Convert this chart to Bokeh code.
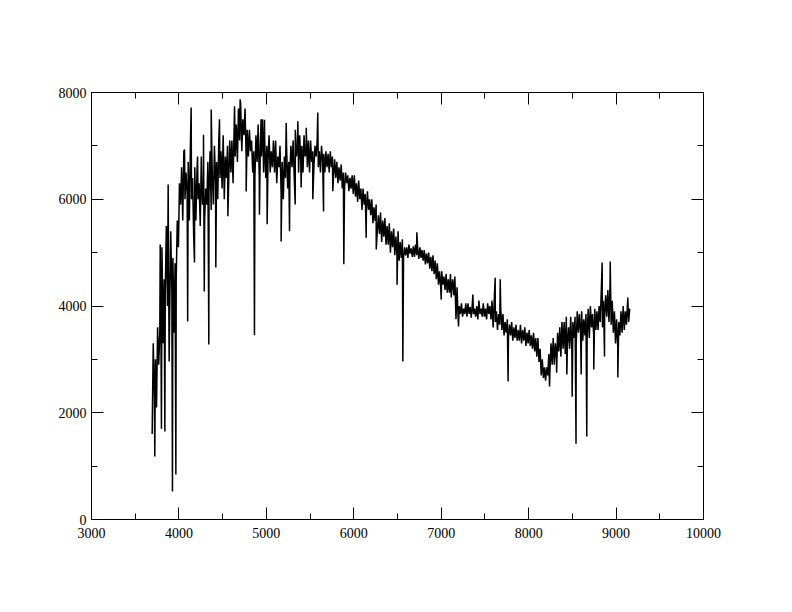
from bokeh.plotting import figure
from bokeh.models import SingleIntervalTicker, LinearAxis
from bokeh.embed import file_html
from bokeh.resources import INLINE

# Spectrum: 25 A bins starting at 3700 A, lower / upper swing per bin
bin_start = 3700
bin_width = 25
flux_lo = [
    1600, 2300, 2100, 2900,
    3600, 3300, 4300, 4000,
    3800, 4300, 3500, 4500,
    5100, 5900, 5600, 6000,
    6100, 5600, 6000, 5300,
    5600, 6000, 5500, 5900,
    5600, 5900, 6100, 5800,
    5900, 6300, 6000, 6400,
    6200, 6000, 6400, 6300,
    6500, 6300, 6800, 6700,
    7100, 6900, 7200, 6800,
    6800, 6900, 6500, 6400,
    6700, 6400, 6800, 6500,
    6400, 6700, 6500, 6600,
    6500, 6300, 6600, 6100,
    6000, 6400, 6200, 6500,
    6600, 6400, 6800, 6500,
    6700, 6500, 6800, 6600,
    6500, 6700, 6600, 6800,
    6600, 6500, 6700, 6500,
    6600, 6500, 6600, 6450,
    6400, 6300, 6350, 6200,
    6200, 6300, 6150, 6200,
    6100, 6050, 5950, 6000,
    5800, 5900, 5750, 5800,
    5700, 5550, 5600, 5400,
    5350, 5200, 5300, 5150,
    5150, 5000, 5100, 4950,
    4950, 4850, 4900, 4900,
    4950, 4900, 4980, 4920,
    4920, 4950, 4880, 4900,
    4850, 4780, 4800, 4700,
    4650, 4600, 4500, 4400,
    4350, 4400, 4300, 4250,
    4250, 4300, 4200, 3750,
    3750, 3850, 3800, 3850,
    3800, 3850, 3780, 3850,
    3800, 3750, 3850, 3800,
    3800, 3750, 3850, 3750,
    3600, 3700, 3550, 3650,
    3550, 3450, 3500, 3400,
    3450, 3350, 3400, 3350,
    3350, 3300, 3350, 3250,
    3300, 3250, 3200, 3150,
    3050, 2950, 2700, 2650,
    2600, 2700, 2800, 2900,
    2900, 3000, 3150, 3050,
    3200, 3100, 3300, 3200,
    3200, 3400, 3300, 3500,
    3500, 3350, 3450, 3400,
    3400, 3600, 3450, 3550,
    3550, 3700, 3600, 3800,
    3800, 3700, 3650, 3500,
    3300, 3250, 3450, 3500,
    3550, 3650, 3700,
]
flux_hi = [
    3300, 3000, 3600, 3500,
    5100, 4500, 5500, 4900,
    5400, 4900, 4800, 5600,
    6300, 6600, 6900, 6500,
    6700, 7000, 6400, 6600,
    6500, 6300, 6800, 6200,
    6200, 6700, 6900, 6500,
    7000, 6700, 7100, 6900,
    7200, 6800, 7000, 7100,
    7100, 7300, 7400, 7700,
    7800, 7500, 7700, 7300,
    7300, 7100, 6900, 7200,
    7400, 7000, 7500, 7100,
    7000, 7200, 6900, 7100,
    7100, 6800, 7000, 6700,
    6800, 7000, 6700, 7000,
    7100, 7300, 7000, 7200,
    7000, 7200, 6900, 7100,
    7100, 6900, 7000, 7100,
    6900, 7000, 6850, 6900,
    6850, 6900, 6800, 6750,
    6700, 6600, 6650, 6500,
    6500, 6450, 6400, 6450,
    6450, 6300, 6350, 6200,
    6200, 6100, 6150, 6000,
    6000, 5850, 5900, 5700,
    5750, 5600, 5650, 5500,
    5550, 5400, 5450, 5300,
    5400, 5200, 5250, 5100,
    5100, 5150, 5080, 5120,
    5150, 5080, 5100, 5050,
    5050, 4980, 5000, 4920,
    4950, 4850, 4800, 4650,
    4650, 4550, 4600, 4500,
    4600, 4500, 4550, 4350,
    4000, 4050, 3950, 4050,
    4050, 3980, 4050, 3950,
    4000, 4100, 3950, 4050,
    3950, 4050, 4000, 4100,
    4100, 3900, 3850, 3950,
    3850, 3700, 3750, 3650,
    3700, 3600, 3650, 3550,
    3650, 3550, 3600, 3500,
    3550, 3450, 3500, 3400,
    3400, 3200, 3000, 2850,
    2850, 3100, 3300, 3400,
    3300, 3500, 3600, 3700,
    3700, 3800, 3600, 3800,
    3700, 3800, 3900, 3850,
    3900, 3750, 3850, 3950,
    4000, 3850, 3950, 3900,
    4000, 4300, 4100, 4200,
    4300, 4400, 4100, 3900,
    3750, 3700, 3900, 4000,
    3900, 4050, 3950,
]

# Narrow lines and spikes (wavelength, flux)
spike_wave = [3724, 3786, 3800, 3839, 3877, 3888, 3926, 3965,
              4064, 4100, 4140, 4178, 4213, 4281, 4290, 4342, 4369, 4422,
              4464, 4560, 4636, 4700, 4769, 4864, 4921, 4940, 4979, 5009,
              5169, 5227, 5265, 5330, 5360, 5398, 5456, 5531, 5588, 5654,
              5760, 5886, 6142, 6257, 6495, 6561, 6721,
              7000, 7115, 7198, 7362, 7617, 7675, 7765, 8239, 8320, 8437,
              8498, 8542, 8601, 8665, 8745, 8841, 8868, 8933, 9020, 9134]
spike_flux = [1180, 5150, 1700, 1650, 6276, 2960, 525, 843,
              6930, 3710, 7720, 4815, 6800, 7210, 4270, 3280, 7680, 4720,
              7500, 5680, 7740, 7870, 6145, 3450, 5710, 7500, 7490, 5530,
              5210, 7430, 5400, 5900, 7460, 6220, 7340, 6000, 7625, 5770,
              6150, 4780, 5280, 5060, 4400, 2960, 5380,
              4120, 4160, 3615, 4215, 4530, 4500, 2585, 2490, 2750, 2716,
              2300, 1420, 2716, 1555, 2810, 4815, 3055, 4835, 2660, 4160]

x_ticks_major = 1000
y_ticks_major = 2000

centers = [bin_start + bin_width * i for i in range(len(flux_lo))]

pts = []
for c, lo, hi in zip(centers, flux_lo, flux_hi):
    pts.append((c - 6, lo))
    pts.append((c + 6, hi))
for w, f in zip(spike_wave, spike_flux):
    pts.append((w, f))
pts.sort(key=lambda t: t[0])
xs = [t[0] for t in pts]
ys = [t[1] for t in pts]

FONT = "Liberation Serif"

p = figure(frame_width=612, frame_height=427,
           min_border_left=91, min_border_right=60,
           min_border_top=92, min_border_bottom=70,
           x_range=(3000, 10000), y_range=(0, 8000),
           output_backend="svg", toolbar_location=None,
           x_axis_location=None, y_axis_location=None)
p.grid.visible = False
p.outline_line_color = "black"
p.outline_line_width = 1
p.background_fill_color = "white"
p.border_fill_color = "white"

def make_axis(interval, labels, standoff=5):
    ax = LinearAxis(ticker=SingleIntervalTicker(interval=interval, num_minor_ticks=2))
    ax.major_tick_in = 12
    ax.major_tick_out = 0
    ax.minor_tick_in = 6
    ax.minor_tick_out = 0
    ax.axis_line_color = "black"
    ax.major_tick_line_color = "black"
    ax.minor_tick_line_color = "black"
    if labels:
        ax.major_label_text_font = FONT
        ax.major_label_text_font_size = "14px"
        ax.major_label_text_color = "black"
        ax.major_label_standoff = standoff
    else:
        ax.major_label_text_font_size = "0px"
        ax.major_label_text_color = None
        ax.major_label_standoff = 0
    return ax

p.add_layout(make_axis(x_ticks_major, True, 8), "below")
p.add_layout(make_axis(y_ticks_major, True, 5), "left")
p.add_layout(make_axis(x_ticks_major, False), "above")
p.add_layout(make_axis(y_ticks_major, False), "right")

p.line(xs, ys, line_color="black", line_width=1.5)

open("out.html", "w").write(file_html(p, INLINE))
